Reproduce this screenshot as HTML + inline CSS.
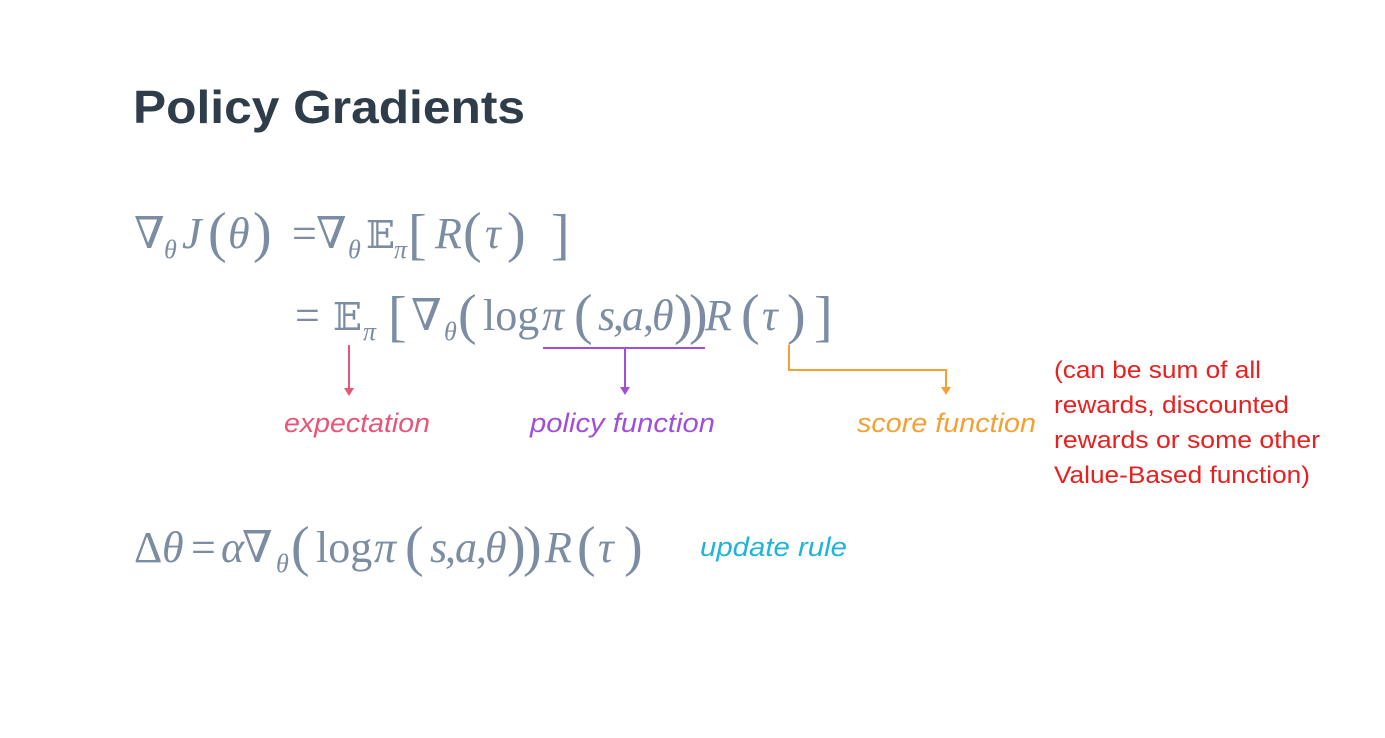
<!DOCTYPE html>
<html><head><meta charset="utf-8"><style>
html,body{margin:0;padding:0;background:#fff;}
svg{display:block}
.m{font-family:"Liberation Serif","DejaVu Serif",serif;fill:#7b8ca3;font-size:44px}
.i{font-style:italic}
.s{font-size:26px;font-style:italic}
.p{font-size:56px;font-weight:normal}
.l{font-family:"Liberation Sans","DejaVu Sans",sans-serif;font-style:italic;font-size:27px}
</style></head><body>
<svg width="1385" height="738" viewBox="0 0 1385 738">
<text x="133" y="123" font-family="Liberation Sans,DejaVu Sans,sans-serif" font-weight="bold" font-size="46" fill="#2e3d49" textLength="392" lengthAdjust="spacingAndGlyphs">Policy Gradients</text>

<g class="m">
<!-- line 1 -->
<text x="134" y="248">∇</text><text class="s" x="164" y="258">θ</text>
<text class="i" x="182" y="248">J</text><text class="p" x="208" y="251">(</text><text class="i" x="228" y="248">θ</text><text class="p" x="253" y="251">)</text>
<text x="292" y="248">=</text><text x="316" y="248">∇</text><text class="s" x="348" y="258">θ</text>
<text x="366" y="248" font-family="DejaVu Serif,serif" font-size="38">𝔼</text><text class="s" x="394" y="258">π</text>
<text class="p" x="408" y="253">[</text><text class="i" x="435" y="248">R</text><text class="p" x="463" y="251">(</text><text class="i" x="485" y="248">τ</text><text class="p" x="507" y="251">)</text><text class="p" x="551" y="253">]</text>
<!-- line 2 -->
<text x="295" y="330">=</text>
<text x="333" y="330" font-family="DejaVu Serif,serif" font-size="38">𝔼</text><text class="s" x="363" y="340">π</text>
<text class="p" x="388" y="335">[</text><text x="411" y="330">∇</text><text class="s" x="444" y="340">θ</text>
<text class="p" x="458" y="333">(</text><text x="483" y="330">log</text><text class="i" x="542" y="330">π</text>
<text class="p" x="574" y="333">(</text><text class="i" x="598" y="330">s</text><text x="613" y="330">,</text><text class="i" x="622" y="330">a</text><text x="643" y="330">,</text><text class="i" x="652" y="330">θ</text>
<text class="p" x="674" y="333">)</text><text class="p" x="689" y="333">)</text>
<text class="i" x="705" y="330">R</text><text class="p" x="741" y="333">(</text><text class="i" x="762" y="330">τ</text><text class="p" x="787" y="333">)</text><text class="p" x="814" y="335">]</text>
<!-- line 3 -->
<text x="134" y="562">Δ</text><text class="i" x="162" y="562">θ</text><text x="191" y="562">=</text><text class="i" x="221" y="562">α</text>
<text x="242" y="562">∇</text><text class="s" x="276" y="572">θ</text>
<text class="p" x="291" y="565">(</text><text x="316" y="562">log</text><text class="i" x="374" y="562">π</text>
<text class="p" x="405" y="565">(</text><text class="i" x="430" y="562">s</text><text x="445" y="562">,</text><text class="i" x="455" y="562">a</text><text x="476" y="562">,</text><text class="i" x="485" y="562">θ</text>
<text class="p" x="507" y="565">)</text><text class="p" x="523" y="565">)</text>
<text class="i" x="545" y="562">R</text><text class="p" x="577" y="565">(</text><text class="i" x="598" y="562">τ</text><text class="p" x="624" y="565">)</text>
</g>

<!-- connectors -->
<g fill="none" stroke-width="2">
<path d="M349 345V390" stroke="#e95479"/>
<path d="M543 348H705M625 348V389" stroke="#a14fd8"/>
<path d="M789 345V370H946V389" stroke="#f5a034"/>
</g>
<path d="M344 388L349 396L354 388Z" fill="#e95479"/>
<path d="M620 387L625 395L630 387Z" fill="#a14fd8"/>
<path d="M941 387L946 395L951 387Z" fill="#f5a034"/>

<text class="l" x="284" y="432" fill="#e95479" textLength="146" lengthAdjust="spacingAndGlyphs">expectation</text>
<text class="l" x="530" y="432" fill="#a14fd8" textLength="185" lengthAdjust="spacingAndGlyphs">policy function</text>
<text class="l" x="857" y="432" fill="#f5a034" textLength="179" lengthAdjust="spacingAndGlyphs">score function</text>
<text class="l" x="700" y="556" fill="#1fb4d8" textLength="147" lengthAdjust="spacingAndGlyphs">update rule</text>

<g font-family="Liberation Sans,DejaVu Sans,sans-serif" font-size="24" fill="#e8201f">
<text x="1054" y="378" textLength="207" lengthAdjust="spacingAndGlyphs">(can be sum of all</text>
<text x="1054" y="413" textLength="235" lengthAdjust="spacingAndGlyphs">rewards, discounted</text>
<text x="1054" y="448" textLength="266" lengthAdjust="spacingAndGlyphs">rewards or some other</text>
<text x="1054" y="483" textLength="256" lengthAdjust="spacingAndGlyphs">Value-Based function)</text>
</g>
</svg>
</body></html>
